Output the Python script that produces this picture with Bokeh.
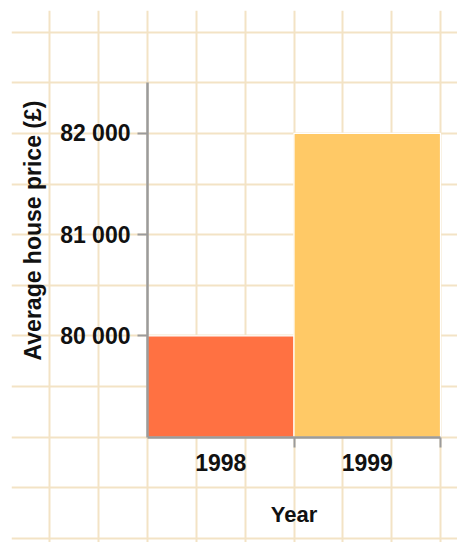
import math
from bokeh.plotting import figure
from bokeh.models import (LinearAxis, FixedTicker, SingleIntervalTicker, Range1d,
                          ColumnDataSource, Grid, Label)
from bokeh.embed import file_html
from bokeh.resources import INLINE

# ---- data ----
years = ["1998", "1999"]
prices = [80000, 82000]
y_ticks = [80000, 81000, 82000]
y_label = "Average house price (£)"
x_label = "Year"
bar_colors = ["#FF7142", "#FFC966"]
base_value = 79000
axis_top = 82500

x_centers = [i + 0.5 for i in range(len(years))]
boundaries = list(range(1, len(years) + 1))

FONT = "Liberation Sans"
TEXT = "#111111"
AXIS = "#9B9B9B"
GRID = "#F3E3C5"

x_rng = Range1d(-0.9283, 2.116)
y_rng = Range1d(77961, 83213)

p = figure(width=457, height=542, output_backend="svg", toolbar_location=None,
           x_range=x_rng, y_range=y_rng,
           x_axis_type=None, y_axis_type=None,
           min_border_left=11, min_border_top=10, min_border_right=0, min_border_bottom=0)
p.outline_line_color = None
p.background_fill_color = "white"
p.border_fill_color = "white"

# background grid (paper squares)
p.add_layout(Grid(dimension=0, ticker=SingleIntervalTicker(interval=1/3),
                  bounds=(x_rng.start - 1, x_rng.end + 1),
                  grid_line_color=GRID, grid_line_width=2))
p.add_layout(Grid(dimension=1, ticker=SingleIntervalTicker(interval=500),
                  bounds=(y_rng.start - 1000, y_rng.end + 1000),
                  grid_line_color=GRID, grid_line_width=2))

src = ColumnDataSource(dict(x=x_centers, top=prices, color=bar_colors, year=years))
p.vbar(x="x", top="top", bottom=base_value, width=1, source=src,
       fill_color="color", line_color="white", line_width=1.2)

# y axis
yaxis = LinearAxis(fixed_location=0, bounds=(base_value, axis_top),
                   ticker=FixedTicker(ticks=y_ticks, minor_ticks=[]),
                   major_label_overrides={t: f"{t:,}".replace(",", " ") for t in y_ticks})
yaxis.axis_line_color = AXIS
yaxis.axis_line_width = 2.5
yaxis.major_tick_line_color = AXIS
yaxis.major_tick_line_width = 2
yaxis.major_tick_out = 10
yaxis.major_tick_in = 0
yaxis.minor_tick_line_color = None
yaxis.major_label_standoff = 7
yaxis.major_label_text_font = FONT
yaxis.major_label_text_font_size = "23px"
yaxis.major_label_text_font_style = "bold"
yaxis.major_label_text_color = TEXT
p.add_layout(yaxis, "left")

# y axis title
p.add_layout(Label(x=21, y=312, x_units="screen", y_units="screen", text=y_label,
                   angle=math.pi / 2, text_align="center", text_baseline="middle",
                   text_font=FONT, text_font_size="23px", text_font_style="bold",
                   text_color=TEXT))

# x axis: line and boundary ticks
xaxis = LinearAxis(fixed_location=base_value, bounds=(0, len(years)),
                   ticker=FixedTicker(ticks=boundaries, minor_ticks=[]))
xaxis.axis_line_color = AXIS
xaxis.axis_line_width = 2.5
xaxis.major_tick_line_color = AXIS
xaxis.major_tick_line_width = 2
xaxis.major_tick_out = 10
xaxis.major_tick_in = 0
xaxis.minor_tick_line_color = None
xaxis.major_label_text_alpha = 0
xaxis.major_label_text_font_size = "1px"
p.add_layout(xaxis, "below")

# x axis: category labels
xlab = LinearAxis(fixed_location=base_value, bounds=(0, len(years)),
                  ticker=FixedTicker(ticks=x_centers, minor_ticks=[]),
                  major_label_overrides={c: y for c, y in zip(x_centers, years)},
                  axis_label=x_label)
xlab.axis_line_color = None
xlab.major_tick_line_color = None
xlab.minor_tick_line_color = None
xlab.major_tick_out = 0
xlab.major_tick_in = 0
xlab.major_label_standoff = 17
xlab.major_label_text_font = FONT
xlab.major_label_text_font_size = "23px"
xlab.major_label_text_font_style = "bold"
xlab.major_label_text_color = TEXT
xlab.axis_label_text_font = FONT
xlab.axis_label_text_font_size = "22px"
xlab.axis_label_text_font_style = "bold"
xlab.axis_label_text_color = TEXT
xlab.axis_label_standoff = 27
p.add_layout(xlab, "below")

open("out.html", "w").write(file_html(p, INLINE))
